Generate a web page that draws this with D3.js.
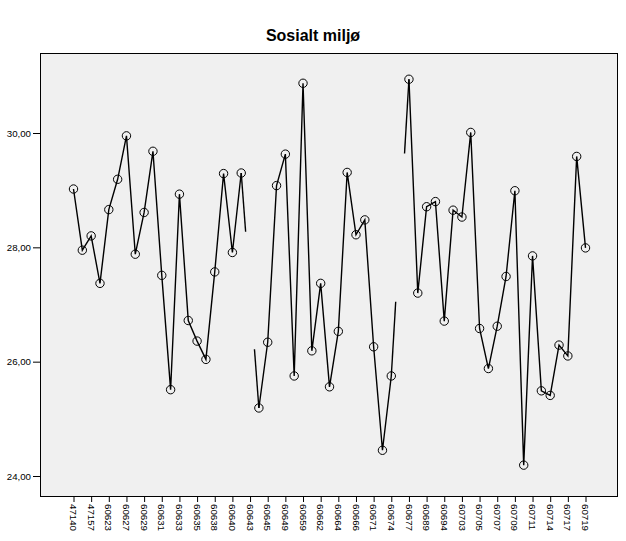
<!DOCTYPE html>
<html>
<head>
<meta charset="utf-8">
<script src="https://cdn.jsdelivr.net/npm/d3@7"></script>
<style>
  html, body { margin: 0; padding: 0; background: #ffffff; }
  svg { display: block; font-family: "Liberation Sans", Arial, sans-serif; }
</style>
</head>
<body>
<svg id="chart" width="626" height="541"></svg>
<script>
// ---- data ----
const title = "Sosialt miljø";
// labels shown on the x axis (every second category)
const tickLabels = ["47140","47157","60623","60627","60629","60631","60633","60635","60638","60640",
  "60643","60645","60649","60659","60662","60664","60666","60671","60674","60677",
  "60689","60694","60703","60705","60707","60709","60711","60714","60717","60719"];
// mean value per category (59 categories, null = missing)
const values = [29.02, 27.95, 28.20, 27.37, 28.66, 29.19, 29.95, 27.88, 28.61, 29.68,
  27.51, 25.51, 28.93, 26.72, 26.36, 26.04, 27.57, 29.29, 27.91, 29.30,
  null, 25.19, 26.34, 29.08, 29.63, 25.75, 30.87, 26.19, 27.37, 25.56,
  26.53, 29.31, 28.22, 28.48, 26.26, 24.45, 25.75, null, 30.94, 27.20,
  28.71, 28.80, 26.71, 28.65, 28.53, 30.01, 26.58, 25.88, 26.62, 27.49,
  28.99, 24.19, 27.85, 25.49, 25.41, 26.29, 26.10, 29.59, 27.99];
const yTicks = [24, 26, 28, 30];

// ---- layout ----
const frame = { left: 40, right: 618, top: 53, bottom: 497 };
const svg = d3.select("#chart");

const idx = d3.range(values.length);
const x = d3.scalePoint().domain(idx).range([73.5, 585.5]);
const y = d3.scaleLinear().domain([24, 30]).range([476, 133]);
const step = x.step();

// background frame
svg.append("rect")
  .attr("x", frame.left).attr("y", frame.top)
  .attr("width", frame.right - frame.left).attr("height", frame.bottom - frame.top)
  .attr("fill", "#f0f0f0").attr("stroke", "none");

// title
svg.append("text")
  .attr("x", 313).attr("y", 41)
  .attr("text-anchor", "middle")
  .attr("font-size", "16px").attr("font-weight", "bold")
  .attr("fill", "#000")
  .text(title);

// y axis
const fmt = v => d3.format(".2f")(v).replace(".", ",");
const yAxis = d3.axisLeft(y).tickValues(yTicks).tickFormat(fmt).tickSize(7).tickPadding(2);
const gy = svg.append("g").attr("transform", `translate(${frame.left},0)`).call(yAxis);
gy.select(".domain").remove();
gy.selectAll("line").attr("stroke", "#000");
gy.selectAll("text").attr("font-size", "9.7px").attr("fill", "#000")
  .attr("font-family", "'Liberation Sans', Arial, sans-serif");

// x axis (labels on every second category)
const tickIdx = tickLabels.map((_, i) => i * 2);
const xAxis = d3.axisBottom(x).tickValues(tickIdx)
  .tickFormat(d => tickLabels[d / 2]).tickSize(5).tickPadding(2);
const gx = svg.append("g").attr("transform", `translate(0,${frame.bottom})`).call(xAxis);
gx.select(".domain").remove();
gx.selectAll("line").attr("stroke", "#000");
gx.selectAll("text")
  .attr("font-size", "9.7px").attr("fill", "#000")
  .attr("font-family", "'Liberation Sans', Arial, sans-serif")
  .attr("text-anchor", "start")
  .attr("transform", "rotate(90)")
  .attr("x", 7).attr("y", 0).attr("dy", "0.4em");

// line segments (break at missing values)
const line = d3.line()
  .defined(d => d != null)
  .x((d, i) => x(i))
  .y(d => y(d));
svg.append("path")
  .datum(values)
  .attr("d", line)
  .attr("fill", "none").attr("stroke", "#000").attr("stroke-width", 1.4);

// stubs toward missing values (along line joining neighbours)
const stubs = [];
values.forEach((v, i) => {
  if (v == null && i > 0 && i < values.length - 1 && values[i - 1] != null && values[i + 1] != null) {
    const a = values[i - 1], b = values[i + 1];
    const x0 = x(i - 1), x1 = x(i + 1);
    const interp = t => a + (b - a) * t;
    stubs.push([[x0, y(a)], [x0 + step / 2, y(interp(0.25))]]);
    stubs.push([[x1 - step / 2, y(interp(0.75))], [x1, y(b)]]);
  }
});
svg.append("g").selectAll("path").data(stubs).join("path")
  .attr("d", d3.line())
  .attr("fill", "none").attr("stroke", "#000").attr("stroke-width", 1.4);

// markers
svg.append("g").selectAll("circle")
  .data(idx.filter(i => values[i] != null))
  .join("circle")
  .attr("cx", i => x(i)).attr("cy", i => y(values[i]))
  .attr("r", 4.2)
  .attr("fill", "none").attr("stroke", "#000").attr("stroke-width", 1);

// frame border
svg.append("rect")
  .attr("x", frame.left + 0.5).attr("y", frame.top + 0.5)
  .attr("width", frame.right - frame.left - 1).attr("height", frame.bottom - frame.top - 1)
  .attr("fill", "none").attr("stroke", "#000").attr("stroke-width", 1);
</script>
</body>
</html>
